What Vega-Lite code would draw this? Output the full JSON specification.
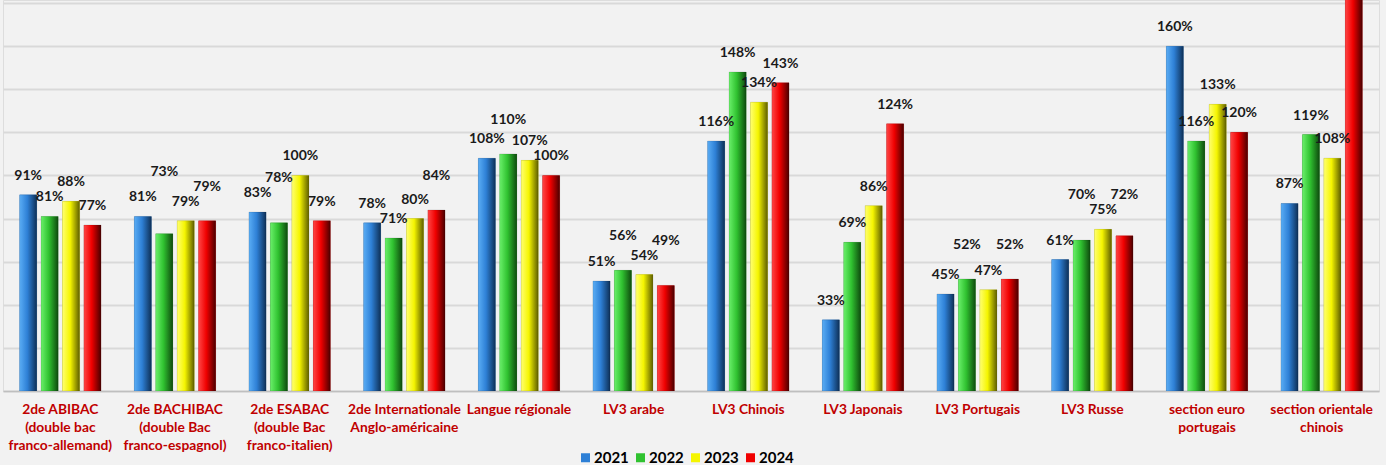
{
  "$schema": "https://vega.github.io/schema/vega-lite/v6.json",
  "width": 1376,
  "height": 391,
  "autosize": "none",
  "padding": {"left": 3, "top": 0, "right": 7, "bottom": 74},
  "background": "#F2F2F2",
  "data": {
    "values": [
      {"cat": "2de ABIBAC|(double bac|franco-allemand)", "year": "2021", "value": 91},
      {"cat": "2de ABIBAC|(double bac|franco-allemand)", "year": "2022", "value": 81},
      {"cat": "2de ABIBAC|(double bac|franco-allemand)", "year": "2023", "value": 88},
      {"cat": "2de ABIBAC|(double bac|franco-allemand)", "year": "2024", "value": 77},
      {"cat": "2de BACHIBAC|(double Bac|franco-espagnol)", "year": "2021", "value": 81},
      {"cat": "2de BACHIBAC|(double Bac|franco-espagnol)", "year": "2022", "value": 73},
      {"cat": "2de BACHIBAC|(double Bac|franco-espagnol)", "year": "2023", "value": 79},
      {"cat": "2de BACHIBAC|(double Bac|franco-espagnol)", "year": "2024", "value": 79},
      {"cat": "2de ESABAC|(double Bac|franco-italien)", "year": "2021", "value": 83},
      {"cat": "2de ESABAC|(double Bac|franco-italien)", "year": "2022", "value": 78},
      {"cat": "2de ESABAC|(double Bac|franco-italien)", "year": "2023", "value": 100},
      {"cat": "2de ESABAC|(double Bac|franco-italien)", "year": "2024", "value": 79},
      {"cat": "2de Internationale|Anglo-américaine", "year": "2021", "value": 78},
      {"cat": "2de Internationale|Anglo-américaine", "year": "2022", "value": 71},
      {"cat": "2de Internationale|Anglo-américaine", "year": "2023", "value": 80},
      {"cat": "2de Internationale|Anglo-américaine", "year": "2024", "value": 84},
      {"cat": "Langue régionale", "year": "2021", "value": 108},
      {"cat": "Langue régionale", "year": "2022", "value": 110},
      {"cat": "Langue régionale", "year": "2023", "value": 107},
      {"cat": "Langue régionale", "year": "2024", "value": 100},
      {"cat": "LV3 arabe", "year": "2021", "value": 51},
      {"cat": "LV3 arabe", "year": "2022", "value": 56},
      {"cat": "LV3 arabe", "year": "2023", "value": 54},
      {"cat": "LV3 arabe", "year": "2024", "value": 49},
      {"cat": "LV3 Chinois", "year": "2021", "value": 116},
      {"cat": "LV3 Chinois", "year": "2022", "value": 148},
      {"cat": "LV3 Chinois", "year": "2023", "value": 134},
      {"cat": "LV3 Chinois", "year": "2024", "value": 143},
      {"cat": "LV3 Japonais", "year": "2021", "value": 33},
      {"cat": "LV3 Japonais", "year": "2022", "value": 69},
      {"cat": "LV3 Japonais", "year": "2023", "value": 86},
      {"cat": "LV3 Japonais", "year": "2024", "value": 124},
      {"cat": "LV3 Portugais", "year": "2021", "value": 45},
      {"cat": "LV3 Portugais", "year": "2022", "value": 52},
      {"cat": "LV3 Portugais", "year": "2023", "value": 47},
      {"cat": "LV3 Portugais", "year": "2024", "value": 52},
      {"cat": "LV3 Russe", "year": "2021", "value": 61},
      {"cat": "LV3 Russe", "year": "2022", "value": 70},
      {"cat": "LV3 Russe", "year": "2023", "value": 75},
      {"cat": "LV3 Russe", "year": "2024", "value": 72},
      {"cat": "section euro|portugais", "year": "2021", "value": 160},
      {"cat": "section euro|portugais", "year": "2022", "value": 116},
      {"cat": "section euro|portugais", "year": "2023", "value": 133},
      {"cat": "section euro|portugais", "year": "2024", "value": 120},
      {"cat": "section orientale|chinois", "year": "2021", "value": 87},
      {"cat": "section orientale|chinois", "year": "2022", "value": 119},
      {"cat": "section orientale|chinois", "year": "2023", "value": 108},
      {"cat": "section orientale|chinois", "year": "2024", "value": 190}
    ]
  },
  "encoding": {
    "x": {
      "field": "cat",
      "type": "nominal",
      "sort": null,
      "title": null,
      "scale": {"paddingInner": 0.29, "paddingOuter": 0.145},
      "axis": {
        "labelExpr": "split(datum.value, '|')",
        "labelAngle": 0,
        "labelFont": "Lato",
        "labelFontSize": 13.8,
        "labelFontWeight": "bold",
        "labelColor": "#C00000",
        "labelLineHeight": 18,
        "labelPadding": 11,
        "labelBaseline": "top",
        "ticks": false,
        "domainColor": "#BFBFBF",
        "domainWidth": 1.5,
        "labelLimit": 0
      }
    },
    "xOffset": {"field": "year", "type": "nominal", "scale": {"paddingInner": 0.2}},
    "y": {
      "field": "value",
      "type": "quantitative",
      "title": null,
      "scale": {"domain": [0, 181.4], "nice": false},
      "axis": {
        "values": [0, 20, 40, 60, 80, 100, 120, 140, 160, 180],
        "labels": false,
        "ticks": false,
        "domain": false,
        "grid": true,
        "gridColor": "#D9D9D9",
        "gridWidth": 2
      }
    }
  },
  "layer": [
    {
      "mark": {"type": "bar", "clip": true},
      "encoding": {
        "color": {
          "field": "year",
          "type": "nominal",
          "title": null,
          "scale": {"range": ["#2E80D6", "#30C230", "#F5F500", "#F00000"]},
          "legend": {
            "orient": "none",
            "legendX": 575,
            "legendY": 450,
            "direction": "horizontal",
            "symbolType": "square",
            "symbolSize": 81,
            "symbolStrokeWidth": 0,
            "labelFont": "Lato",
            "labelFontSize": 15,
            "labelFontWeight": "bold",
            "labelColor": "#000000",
            "labelOffset": 1,
            "columnPadding": 4
          }
        }
      }
    },
    {
      "transform": [{"filter": "datum.year == '2021'"}],
      "mark": {"type": "bar", "clip": true, "stroke": "#00000030", "strokeWidth": 0.6,
        "fill": {"gradient": "linear", "x1": 0, "x2": 1, "y1": 0, "y2": 0, "stops": [{"offset": 0, "color": "#5AADF5"}, {"offset": 0.45, "color": "#2E80D6"}, {"offset": 1, "color": "#0E3057"}]}}
    },
    {
      "transform": [{"filter": "datum.year == '2022'"}],
      "mark": {"type": "bar", "clip": true, "stroke": "#00000030", "strokeWidth": 0.6,
        "fill": {"gradient": "linear", "x1": 0, "x2": 1, "y1": 0, "y2": 0, "stops": [{"offset": 0, "color": "#6AF06A"}, {"offset": 0.45, "color": "#30C230"}, {"offset": 1, "color": "#0E4A0E"}]}}
    },
    {
      "transform": [{"filter": "datum.year == '2023'"}],
      "mark": {"type": "bar", "clip": true, "stroke": "#00000030", "strokeWidth": 0.6,
        "fill": {"gradient": "linear", "x1": 0, "x2": 1, "y1": 0, "y2": 0, "stops": [{"offset": 0, "color": "#FFFF70"}, {"offset": 0.45, "color": "#F5F500"}, {"offset": 1, "color": "#5E5E00"}]}}
    },
    {
      "transform": [{"filter": "datum.year == '2024'"}],
      "mark": {"type": "bar", "clip": true, "stroke": "#00000030", "strokeWidth": 0.6,
        "fill": {"gradient": "linear", "x1": 0, "x2": 1, "y1": 0, "y2": 0, "stops": [{"offset": 0, "color": "#FF4545"}, {"offset": 0.45, "color": "#F00000"}, {"offset": 1, "color": "#4A0000"}]}}
    },
    {
      "transform": [
        {"window": [{"op": "lag", "field": "value", "as": "prev"}, {"op": "lead", "field": "value", "as": "next"}], "groupby": ["cat"], "sort": [{"field": "year"}]},
        {"calculate": "datum.year == '2022' || datum.year == '2024'", "as": "odd"},
        {"calculate": "(datum.odd && datum.prev != null && abs(datum.value - datum.prev) < 7) ? max(datum.value, datum.prev) + 7 : datum.value", "as": "l1"},
        {"calculate": "(datum.odd && datum.next != null && abs(datum.l1 - datum.next) < 7) ? max(datum.l1, datum.next) + 7 : datum.l1", "as": "l2"},
        {"calculate": "(datum.odd && datum.prev != null && abs(datum.l2 - datum.prev) < 7) ? max(datum.l2, datum.prev) + 7 : datum.l2", "as": "lvl"},
        {"filter": "datum.value <= 180"},
        {"calculate": "datum.value + '%'", "as": "label"}
      ],
      "mark": {"type": "text", "dy": -19, "font": "Lato", "fontSize": 14, "fontWeight": "bold", "color": "#1A1A1A"},
      "encoding": {
        "y": {"field": "lvl", "type": "quantitative"},
        "text": {"field": "label", "type": "nominal"}
      }
    }
  ]
}
